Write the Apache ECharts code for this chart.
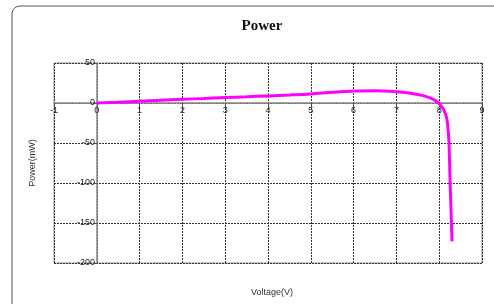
<!DOCTYPE html>
<html>
<head>
<meta charset="utf-8">
<script src="https://cdn.jsdelivr.net/npm/echarts@6/dist/echarts.min.js"></script>
<style>html,body{margin:0;padding:0;background:#fff}#main{width:494px;height:304px}</style>
</head>
<body>
<div id="main"></div>
<script>
// 电压-功率曲线
var voltage = [0, 0.5, 1, 1.5, 2, 2.5, 3, 3.5, 4, 4.5, 5, 5.5, 6, 6.5, 7, 7.3, 7.6, 7.8, 7.95, 8.05, 8.12, 8.18, 8.21, 8.23, 8.255, 8.28, 8.3];
var power = [0, 1, 2.2, 3.4, 4.6, 5.7, 6.8, 7.8, 8.9, 10, 11.3, 13.3, 14.9, 15.3, 14.2, 12.5, 9.5, 6, 1.5, -4, -10, -20, -35, -50, -100, -140, -173];

var points = voltage.map(function (v, i) { return [v, power[i]]; });

var myChart = echarts.init(document.getElementById('main'));

var axisFont = { fontFamily: 'Liberation Sans', fontSize: 9, color: '#222' };

var option = {
	animation: false,
	title: {
		text: 'Power',
		left: 257,
		top: 14,
		textAlign: 'center',
		textStyle: { fontFamily: 'Liberation Serif', fontWeight: 'bold', fontSize: 15, color: '#111' }
	},
	graphic: [{
		type: 'rect',
		shape: { x: 12, y: 6, width: 520, height: 340, r: 8 },
		style: { fill: 'none', stroke: '#555', lineWidth: 1 },
		z: -1
	}],
	grid: {
		left: 54, right: 12, top: 63, bottom: 41,
		containLabel: false,
		outerBoundsMode: 'none',
		show: true, borderColor: '#999', borderWidth: 1
	},
	xAxis: {
		type: 'value',
		min: -1, max: 9, interval: 1,
		position: 'bottom',
		offset: -160,
		name: 'Voltage(V)',
		nameLocation: 'middle',
		nameGap: 185,
		nameTextStyle: { fontFamily: 'Liberation Sans', fontSize: 9, color: '#333', padding: [0, 0, 0, 8] },
		axisLine: { onZero: false, lineStyle: { color: '#888', width: 1.5 } },
		axisTick: { show: true, length: 3, lineStyle: { color: '#555' } },
		axisLabel: Object.assign({ margin: 3 }, axisFont),
		splitLine: { show: true, lineStyle: { color: '#333', type: [2, 1], width: 1 } }
	},
	yAxis: {
		type: 'value',
		min: -200, max: 50, interval: 50,
		position: 'left',
		offset: -43,
		name: 'Power(mW)',
		nameLocation: 'middle',
		nameGap: 60,
		nameRotate: 90,
		nameTextStyle: { fontFamily: 'Liberation Sans', fontSize: 9, color: '#333' },
		axisLine: { onZero: false, lineStyle: { color: '#888', width: 1.5 } },
		axisTick: { show: true, length: 4, lineStyle: { color: '#555' } },
		axisLabel: Object.assign({ margin: 2 }, axisFont),
		splitLine: { show: true, lineStyle: { color: '#333', type: [2, 1], width: 1 } }
	},
	series: [{
		type: 'line',
		data: points,
		smooth: 0.3,
		showSymbol: false,
		lineStyle: { color: '#ff00ff', width: 3 }
	}]
};

myChart.setOption(option);
</script>
</body>
</html>
